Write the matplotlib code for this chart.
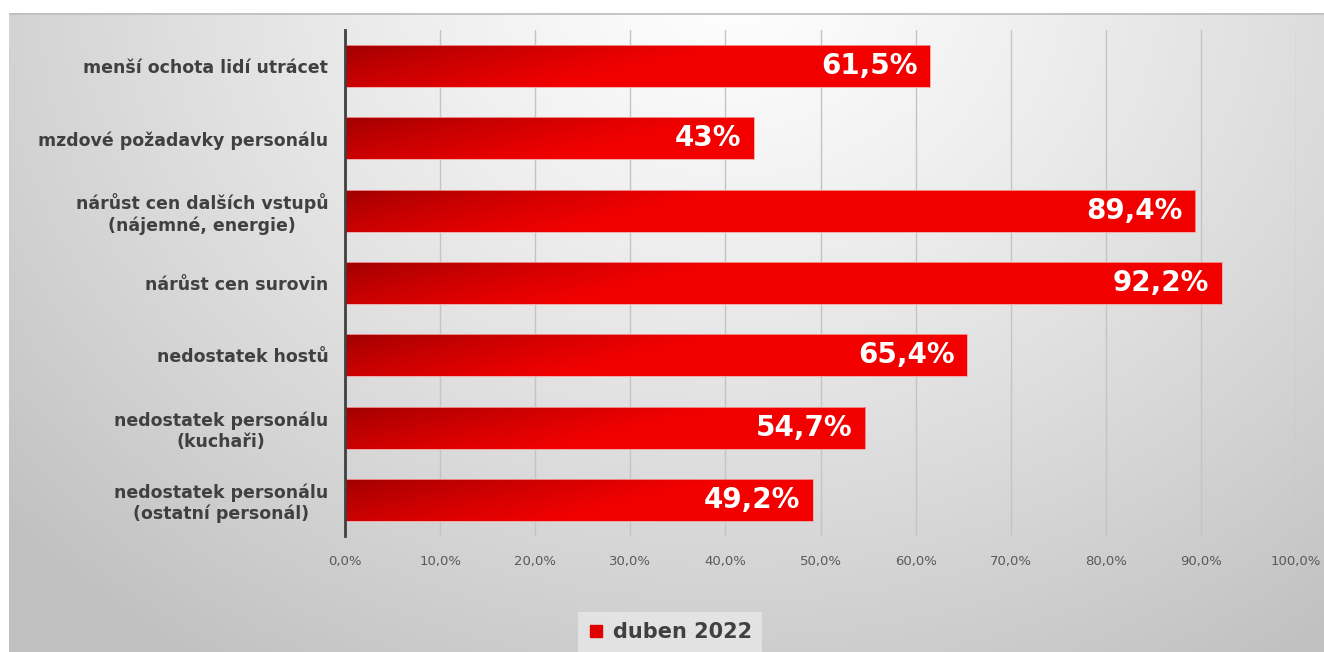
import matplotlib
matplotlib.use("Agg")
import matplotlib.pyplot as plt
import numpy as np
from matplotlib.lines import Line2D

# Data
categories = [
    "menší ochota lidí utrácet",
    "mzdové požadavky personálu",
    "nárůst cen dalších vstupů\n(nájemné, energie)",
    "nárůst cen surovin",
    "nedostatek hostů",
    "nedostatek personálu\n(kuchaři)",
    "nedostatek personálu\n(ostatní personál)",
]
values = [61.5, 43.0, 89.4, 92.2, 65.4, 54.7, 49.2]
value_labels = ["61,5%", "43%", "89,4%", "92,2%", "65,4%", "54,7%", "49,2%"]
xticks = [0, 10, 20, 30, 40, 50, 60, 70, 80, 90, 100]
xtick_labels = ["0,0%", "10,0%", "20,0%", "30,0%", "40,0%", "50,0%",
                "60,0%", "70,0%", "80,0%", "90,0%", "100,0%"]
series_name = "duben 2022"

W, H = 1324, 652
fig = plt.figure(figsize=(W / 100, H / 100), dpi=100)
fig.patch.set_facecolor("white")

# Gray radial gradient panel behind the chart
bg = fig.add_axes([9 / W, 0, 1 - 9 / W, 1 - 13 / H])
gx, gy = np.meshgrid(np.linspace(0, 1, 400), np.linspace(0, 1, 200))
r = np.sqrt(((gx - 0.55) / 0.75) ** 2 + ((gy + 0.05) / 1.3) ** 2)
shade = (254 - 62 * np.clip(r, 0, 1) ** 1.2) / 255
bg.imshow(np.dstack([shade, shade, shade]), aspect="auto", extent=(0, 1, 1, 0))
bg.axhline(0.002, color="#bdbdbd", lw=1.2)
bg.set_xlim(0, 1)
bg.set_ylim(1, 0)
bg.axis("off")

ax = fig.add_axes([345 / W, 1 - 536 / H, (1296 - 345) / W, (536 - 30) / H])
ax.set_facecolor("none")

n = len(categories)
pos = np.arange(n)
bar_h = 0.58

ax.set_xlim(0, 100)
ax.set_ylim(n - 0.5, -0.5)

# gradient bars: dark red top-left -> bright red bottom-right
dark = np.array([0.62, 0.0, 0.0])
bright = np.array([0.95, 0.0, 0.0])
for i, v in enumerate(values):
    bx, by = np.meshgrid(np.linspace(0, 1, 200), np.linspace(0, 1, 40))
    xs = bx * v / 30.0
    t = np.clip(0.75 * xs + 0.45 * by, 0, 1) ** 0.8
    img = dark[None, None, :] * (1 - t[..., None]) + bright[None, None, :] * t[..., None]
    ax.imshow(img, aspect="auto", interpolation="bilinear",
              extent=(0, v, pos[i] + bar_h / 2, pos[i] - bar_h / 2),
              origin="upper", zorder=3)
    ax.add_patch(plt.Rectangle((0, pos[i] - bar_h / 2), v, bar_h, fill=False,
                               edgecolor="#f3a0a0", lw=0.6, zorder=4))
    ax.annotate(value_labels[i], xy=(v, pos[i]), xytext=(-9, 0),
                textcoords="offset points", ha="right", va="center",
                color="white", fontsize=20, fontweight="bold", zorder=5)

ax.set_yticks(pos)
ax.set_yticklabels(categories, fontsize=12.5, fontweight="bold", color="#404040",
                   multialignment="center")
ax.set_xticks(xticks)
ax.set_xticklabels(xtick_labels, fontsize=9.5, color="#595959")
ax.tick_params(axis="y", length=0, pad=12)
ax.tick_params(axis="x", length=0, pad=14)

ax.grid(axis="x", color="#c4c4c4", lw=1, zorder=0)
ax.set_axisbelow(True)
for s in ["top", "right", "bottom"]:
    ax.spines[s].set_visible(False)
ax.spines["left"].set_color("#404040")
ax.spines["left"].set_linewidth(2)
ax.spines["left"].set_zorder(6)

handle = Line2D([], [], marker="s", color="#e00000", linestyle="none", markersize=9)
leg = fig.legend([handle], [series_name], loc="center",
                 bbox_to_anchor=(670 / W, 1 - 632 / H),
                 frameon=True, fancybox=False, handlelength=0.8, handletextpad=0.4,
                 borderpad=0.5, prop={"weight": "bold", "size": 15})
leg.get_frame().set_facecolor("#e8e8e8")
leg.get_frame().set_edgecolor("none")
for t in leg.get_texts():
    t.set_color("#404040")

fig.savefig("out.png", dpi=100)
